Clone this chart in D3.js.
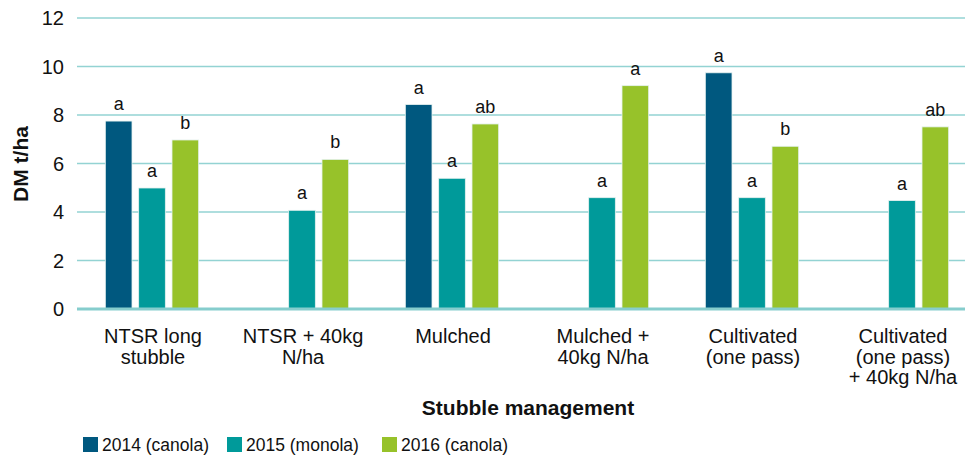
<!DOCTYPE html>
<html>
<head>
<meta charset="utf-8">
<script src="https://cdn.jsdelivr.net/npm/d3@7"></script>
<style>
  body { margin: 0; background: #fff; }
  text { font-family: "Liberation Sans", Arial, Helvetica, sans-serif; fill: #111; }
</style>
</head>
<body>
<div id="chart"></div>
<script>
// categories (each label split into its printed lines)
const categories = [
    ["NTSR long", "stubble"],
    ["NTSR + 40kg", "N/ha"],
    ["Mulched"],
    ["Mulched +", "40kg N/ha"],
    ["Cultivated", "(one pass)"],
    ["Cultivated", "(one pass)", "+ 40kg N/ha"]
];
const seriesNames = ["2014 (canola)", "2015 (monola)", "2016 (canola)"];
const seriesColors = ["#00587f", "#009a9a", "#97c22a"];

// DM t/ha per series, null = not sown
const values2014 = [7.75, null, 8.43, null, 9.74, null];
const values2015 = [4.99, 4.07, 5.39, 4.59, 4.59, 4.47];
const values2016 = [6.97, 6.17, 7.63, 9.21, 6.71, 7.51];

// significance letters
const letters2014 = ["a", "", "a", "", "a", ""];
const letters2015 = ["a", "a", "a", "a", "a", "a"];
const letters2016 = ["b", "b", "ab", "a", "b", "ab"];

const yTicks = [0, 2, 4, 6, 8, 10, 12];

const width = 965, height = 459;
const svg = d3.select("#chart").append("svg")
    .attr("width", width)
    .attr("height", height);

const catKeys = categories.map((c, i) => i);
const x = d3.scaleBand().domain(catKeys).range([78, 978]);
const xInner = d3.scaleBand().domain([0, 1, 2]).range([24, 124])
    .paddingInner(0.2).paddingOuter(0.1);
const y = d3.scaleLinear().domain([0, 12]).range([309, 18]);

/* gridlines */
svg.append("g").selectAll("line")
    .data(yTicks.filter(d => d > 0))
    .enter()
    .append("line")
    .attr("x1", 77).attr("x2", width)
    .attr("y1", d => y(d)).attr("y2", d => y(d))
    .attr("stroke", "#93d3d3")
    .attr("stroke-width", 1.5);

/* y tick labels */
svg.append("g").selectAll("text")
    .data(yTicks)
    .enter()
    .append("text")
    .attr("x", 64)
    .attr("y", d => y(d))
    .attr("dy", "0.35em")
    .attr("text-anchor", "end")
    .style("font-size", "20px")
    .text(d => d);

/* bars */
const series = [
    { vals: values2014, letters: letters2014 },
    { vals: values2015, letters: letters2015 },
    { vals: values2016, letters: letters2016 }
];
const barData = [];
series.forEach((s, si) => {
    s.vals.forEach((v, ci) => {
        if (v !== null) barData.push({ si, ci, v, letter: s.letters[ci] });
    });
});

const barGroup = svg.append("g");
barGroup.selectAll("rect")
    .data(barData)
    .enter()
    .append("rect")
    .attr("x", d => x(d.ci) + xInner(d.si))
    .attr("y", d => y(d.v))
    .attr("width", xInner.bandwidth())
    .attr("height", d => y(0) - y(d.v))
    .attr("fill", d => seriesColors[d.si])
    .attr("stroke", "#e6f2f0")
    .attr("stroke-width", 0.8);

barGroup.selectAll("text")
    .data(barData)
    .enter()
    .append("text")
    .attr("x", d => x(d.ci) + xInner(d.si) + xInner.bandwidth() / 2)
    .attr("y", d => y(d.v) - 11)
    .attr("text-anchor", "middle")
    .style("font-size", "18px")
    .text(d => d.letter);

/* baseline */
svg.append("line")
    .attr("x1", 77).attr("x2", width)
    .attr("y1", y(0)).attr("y2", y(0))
    .attr("stroke", "#86cdcd")
    .attr("stroke-width", 3);

/* category labels */
const catLabels = svg.append("g").selectAll("text")
    .data(categories)
    .enter()
    .append("text")
    .attr("text-anchor", "middle")
    .style("font-size", "20px");
catLabels.selectAll("tspan")
    .data((d, i) => d.map(line => ({ line, i })))
    .enter()
    .append("tspan")
    .attr("x", d => x(d.i) + x.bandwidth() / 2)
    .attr("y", (d, j) => 343 + j * 20.7)
    .text(d => d.line);

/* axis titles */
svg.append("text")
    .attr("x", 528)
    .attr("y", 415)
    .attr("text-anchor", "middle")
    .style("font-size", "21px")
    .style("font-weight", "bold")
    .text("Stubble management");

svg.append("text")
    .attr("transform", "translate(28,164) rotate(-90)")
    .attr("text-anchor", "middle")
    .style("font-size", "21px")
    .style("font-weight", "bold")
    .text("DM t/ha");

/* legend */
const legendX = [83, 227, 382];
const legend = svg.append("g").selectAll("g")
    .data(seriesNames)
    .enter()
    .append("g")
    .attr("transform", (d, i) => `translate(${legendX[i]},437)`);
legend.append("rect")
    .attr("width", 15).attr("height", 15)
    .attr("fill", (d, i) => seriesColors[i]);
legend.append("text")
    .attr("x", 19)
    .attr("y", 14)
    .style("font-size", "17.5px")
    .text(d => d);
</script>
</body>
</html>
